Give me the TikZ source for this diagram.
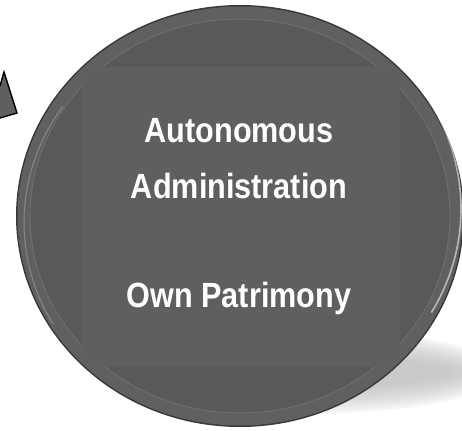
\documentclass[tikz,border=0pt]{standalone}
\usepackage{fontspec}
\setmainfont{Liberation Sans}
\definecolor{btn}{HTML}{595959}
\definecolor{band}{HTML}{606060}
\definecolor{edge}{HTML}{383838}
\definecolor{sq}{HTML}{5F5F5F}
\definecolor{rimlight}{HTML}{6E6E6E}
\definecolor{shadowc}{HTML}{B8B8B8}
\tikzset{
  lbl/.style={text=white, font=\fontsize{35}{54}\selectfont\bfseries, anchor=base, inner sep=0pt},
  arrowtri/.style={fill=sq, draw=black, line width=1.4pt, line join=miter}
}
\newcommand{\nar}[1]{\scalebox{0.875}[1]{#1}}
\begin{document}
\begin{tikzpicture}[x=1pt,y=-1pt]
\useasboundingbox (0,0) rectangle (462,430);
% shadow
\foreach \k in {0,...,9}{
  \fill[shadowc, opacity=0.13] (300,372) ellipse ({205-6*\k} and {42-3*\k});
}
% arrow fragment
\draw[arrowtri] (0,86) -- (4,72) -- (17,113) -- (0,118);
% button
\fill[edge] (240,216) ellipse (224 and 211);
\fill[band] (240,216) ellipse (222.5 and 209.5);
\fill[btn] (240,216) ellipse (210 and 197);
\draw[rimlight, line width=1pt] (240,216) ellipse (210 and 197);
\draw[white, line width=1.6pt, opacity=0.55] (240,216) ++(-35:221) arc[start angle=-35, end angle=30, x radius=221, y radius=208];
\draw[white, line width=1pt, opacity=0.25] (240,216) ++(150:216) arc[start angle=150, end angle=215, x radius=216, y radius=203];
\begin{scope}
  \clip (240,216) ellipse (222 and 209);
  \fill[sq] (82,67) rectangle (400,367);
\end{scope}
\node[lbl] (t1) at (239,143) {\nar{Autonomous}};
\node[lbl] (t2) at (239,198) {\nar{Administration}};
\node[lbl] (t3) at (239,307) {\nar{Own Patrimony}};
\end{tikzpicture}
\end{document}
